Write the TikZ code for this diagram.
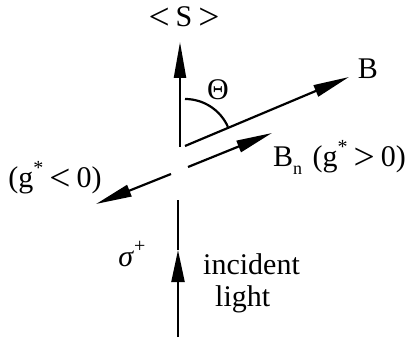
\documentclass[tikz,border=0pt]{standalone}
\usepackage{fontspec}
\usepackage{graphicx}
\setmainfont{Liberation Serif}
\usetikzlibrary{arrows.meta}
\newcommand{\bigrel}[1]{\raisebox{-0.07em}{\scalebox{1.25}{#1}}}
\newcommand{\supr}[1]{\raisebox{0.45em}{\fontsize{20}{22}\selectfont #1}}
\begin{document}
\begin{tikzpicture}[x=1pt,y=1pt,
  vec/.style={line width=2.2pt,-{Triangle[length=36pt,width=12pt]}},
  ln/.style={line width=2.2pt},
  lbl/.style={inner sep=0pt,font=\fontsize{30}{36}\selectfont}]
\useasboundingbox (0,0) rectangle (407,-339);
% spin arrow
\coordinate (Sbase) at (180,-147);
\coordinate (Stip) at (180,-42);
\draw[vec] (Sbase) -- (Stip);
\node[lbl,anchor=base] (Slbl) at (184,-27) {\bigrel{<}\hspace{0.2em}S\hspace{0.2em}\bigrel{>}};
% B field
\coordinate (Bstart) at (185,-146);
\coordinate (Btip) at (349,-77);
\draw[vec] (Bstart) -- (Btip);
\node[lbl,anchor=base] (Blbl) at (368,-79) {B};
% angle
\draw[ln] (Bstart) ++(90:47) arc[start angle=90,end angle=24,radius=47];
\node[lbl,anchor=base] (Theta) at (218,-100) {Θ};
% Bn
\coordinate (Bnstart) at (188,-167);
\coordinate (Bntip) at (272,-133);
\draw[vec] (Bnstart) -- (Bntip);
\node[lbl,anchor=base west] (Bnlbl) at (273,-167) {B\raisebox{-0.25em}{\fontsize{18}{20}\selectfont n}\hspace{0.35em}(g\supr{*}\hspace{0.2em}\bigrel{>}\hspace{0.2em}0)};
% negative g
\coordinate (Gstart) at (171,-174);
\coordinate (Gtip) at (96,-204);
\draw[vec] (Gstart) -- (Gtip);
\node[lbl,anchor=base] (Glbl) at (55,-188) {(g\supr{*}\hspace{0.2em}\bigrel{<}\hspace{0.2em}0)};
% incident light
\coordinate (Lbot) at (178,-337);
\coordinate (Lhead) at (178,-250);
\coordinate (Ltop) at (178,-200);
\draw[vec,-{Triangle[length=32pt,width=13pt]}] (Lbot) -- (Lhead);
\draw[ln] (Lhead) -- (Ltop);
\node[lbl,anchor=base] (sig) at (132,-266) {\textit{σ}\supr{+}};
\node[lbl,anchor=base west] (inc) at (203,-274) {incident};
\node[lbl,anchor=base west] (lig) at (215,-306) {light};
\end{tikzpicture}
\end{document}
